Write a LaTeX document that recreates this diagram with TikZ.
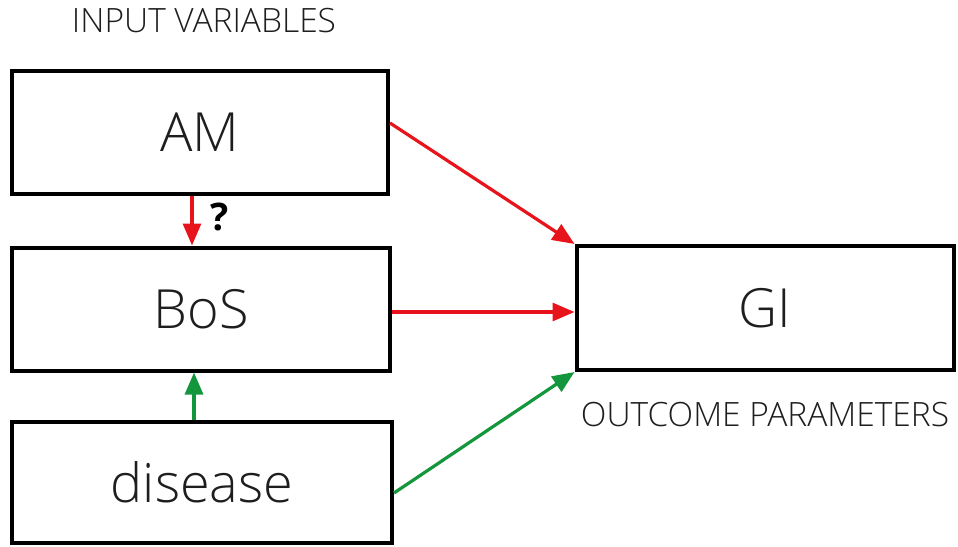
\documentclass[tikz,border=0pt]{standalone}
\usepackage{fontspec}
\IfFontExistsTF{Open Sans Light}{\setmainfont{Open Sans Light}[BoldFont=Open Sans Bold]}{\setmainfont{Open Sans}}
\usetikzlibrary{arrows.meta}
\definecolor{arred}{RGB}{232,20,27}
\definecolor{argreen}{RGB}{20,150,60}
\definecolor{txt}{RGB}{30,30,30}
\begin{document}
\begin{tikzpicture}[x=1pt,y=-1pt,
  boxnode/.style={draw=black,line width=4pt,minimum width=376pt,minimum height=123pt,inner sep=0pt,text=txt,font=\fontsize{54}{60}\selectfont},
  caption/.style={text=txt,inner sep=0pt,font=\fontsize{33.5}{38}\selectfont},
  redarrow/.style={draw=arred,line width=3.2pt,-{Triangle[length=22pt,width=18pt]}},
  greenarrow/.style={draw=argreen,line width=3.2pt,-{Triangle[length=22pt,width=18pt]}}]
\useasboundingbox (0,0) rectangle (958,546);
\node[caption] (inlab) at (204,21) {INPUT VARIABLES};
\node[boxnode] (am) at (200,132) {AM};
\node[boxnode,minimum width=378pt] (bos) at (201,309) {BoS};
\node[boxnode,minimum width=380pt,minimum height=121pt] (dis) at (202,482) {disease};
\node[boxnode,minimum width=377pt,minimum height=124pt] (gi) at (765,308) {GI};
\node[caption] (outlab) at (765,415) {OUTCOME PARAMETERS};
\node[text=black,inner sep=0pt,font=\fontsize{38}{42}\selectfont\bfseries] (q) at (220,217) {?};
\draw[redarrow] ([yshift=9pt]am.east) -- (gi.north west);
\draw[redarrow] ([yshift=-3pt]bos.east) -- ([yshift=-3pt]bos.east -| gi.west);
\draw[greenarrow] ([yshift=-11pt]dis.east) -- (gi.south west);
\draw[redarrow] ([xshift=-8pt]am.south) -- ([xshift=-8pt]am.south |- bos.north);
\draw[greenarrow] ([xshift=-8pt]dis.north) -- ([xshift=-8pt]dis.north |- bos.south);
\end{tikzpicture}
\end{document}
